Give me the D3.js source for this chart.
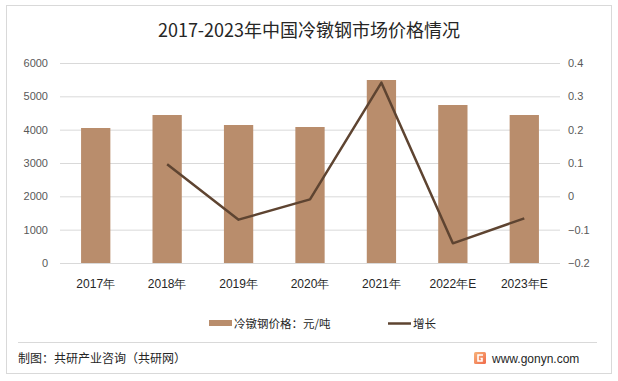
<!DOCTYPE html>
<html><head><meta charset="utf-8">
<script src="https://cdn.jsdelivr.net/npm/d3@7"></script>
<style>body{margin:0;background:#fff;}svg{display:block;font-family:"Noto Sans CJK SC","Noto Sans",sans-serif;}</style>
</head><body><svg id="c" width="618" height="381"></svg>
<script>
const categories = ["2017年","2018年","2019年","2020年","2021年","2022年E","2023年E"];
const prices = [4050,4440,4140,4080,5490,4740,4440];
const growth = [null,0.096,-0.07,-0.009,0.341,-0.141,-0.066];
const leftTicks = [0,1000,2000,3000,4000,5000,6000];
const rightTicks = [-0.2,-0.1,0,0.1,0.2,0.3,0.4];
const title = "2017-2023年中国冷镦钢市场价格情况";
const legendLabels = ["冷镦钢价格：元/吨","增长"];
const footerLeft = "制图：共研产业咨询（共研网）";
const footerRight = "www.gonyn.com";

const svg = d3.select("#c");
svg.append("rect").attr("x",6.5).attr("y",5.5).attr("width",605).attr("height",368).attr("fill","#fff").attr("stroke","#d9d9d9");

svg.append("text").attr("x",309).attr("y",37).attr("text-anchor","middle").attr("font-size",18).attr("fill","#262626").text(title);

const x = d3.scaleBand().domain(categories).range([60,560]).paddingInner(0.59).paddingOuter(0.295);
const yL = d3.scaleLinear().domain([0,6000]).range([263,63]);
const yR = d3.scaleLinear().domain([-0.2,0.4]).range([263,63]);

svg.append("g").selectAll("line").data(leftTicks).join("line")
  .attr("x1",60).attr("x2",560).attr("y1",d=>yL(d)+0.5).attr("y2",d=>yL(d)+0.5)
  .attr("stroke","#d9d9d9").attr("stroke-width",1);

const gl = svg.append("g").attr("transform","translate(60,0)")
  .call(d3.axisLeft(yL).tickValues(leftTicks).tickSize(0).tickPadding(12).tickFormat(d3.format("d")));
gl.select(".domain").remove();
gl.selectAll("text").attr("font-size",11).attr("fill","#595959").attr("font-family","'Liberation Sans',sans-serif");

const gr = svg.append("g").attr("transform","translate(560,0)")
  .call(d3.axisRight(yR).tickValues(rightTicks).tickSize(0).tickPadding(8).tickFormat(d=>d3.format("")(+d.toFixed(1))));
gr.select(".domain").remove();
gr.selectAll("text").attr("font-size",11).attr("fill","#595959").attr("font-family","'Liberation Sans',sans-serif");

const gx = svg.append("g").attr("transform","translate(0,263)")
  .call(d3.axisBottom(x).tickSize(0).tickPadding(16));
gx.select(".domain").remove();
gx.selectAll("text").attr("font-size",12).attr("fill","#262626");

svg.append("g").selectAll("rect").data(prices).join("rect")
  .attr("x",(d,i)=>x(categories[i])).attr("width",x.bandwidth())
  .attr("y",d=>yL(d)).attr("height",d=>yL(0)-yL(d)).attr("fill","#B98D6C");

const line = d3.line().defined(d=>d[1]!==null)
  .x(d=>x(d[0])+x.bandwidth()/2).y(d=>yR(d[1]));
svg.append("path").datum(categories.map((c,i)=>[c,growth[i]]))
  .attr("d",line).attr("fill","none").attr("stroke","#5E4431").attr("stroke-width",2.5).attr("stroke-linejoin","round");

const lg = svg.append("g");
lg.append("rect").attr("x",209).attr("y",320).attr("width",23).attr("height",6).attr("fill","#B98D6C");
lg.append("text").attr("x",234).attr("y",328).attr("font-size",11.5).attr("fill","#262626").text(legendLabels[0]);
lg.append("line").attr("x1",388).attr("x2",411).attr("y1",323.5).attr("y2",323.5).attr("stroke","#5E4431").attr("stroke-width",2.5);
lg.append("text").attr("x",413).attr("y",328).attr("font-size",11.5).attr("fill","#262626").text(legendLabels[1]);

svg.append("line").attr("x1",18).attr("x2",597).attr("y1",342.5).attr("y2",342.5).attr("stroke","#d9d9d9");
svg.append("text").attr("x",18).attr("y",363).attr("font-size",12).attr("fill","#262626").text(footerLeft);
const lgo = svg.append("g").attr("transform","translate(474,352)");
const grad = svg.append("defs").append("linearGradient").attr("id","lg").attr("x1",0).attr("y1",0).attr("x2",1).attr("y2",1);
grad.append("stop").attr("offset",0).attr("stop-color","#F7B37A");
grad.append("stop").attr("offset",1).attr("stop-color","#F06A4A");
lgo.append("rect").attr("width",12).attr("height",12).attr("rx",1.5).attr("fill","url(#lg)");
lgo.append("path").attr("d","M9,3 H4 V9 H8 V6.5 H6.5").attr("fill","none").attr("stroke","#fff").attr("stroke-width",1.6);
svg.append("text").attr("x",492).attr("y",363).attr("font-size",12).attr("fill","#262626").attr("font-family","'Liberation Sans',sans-serif").text(footerRight);
</script></body></html>
